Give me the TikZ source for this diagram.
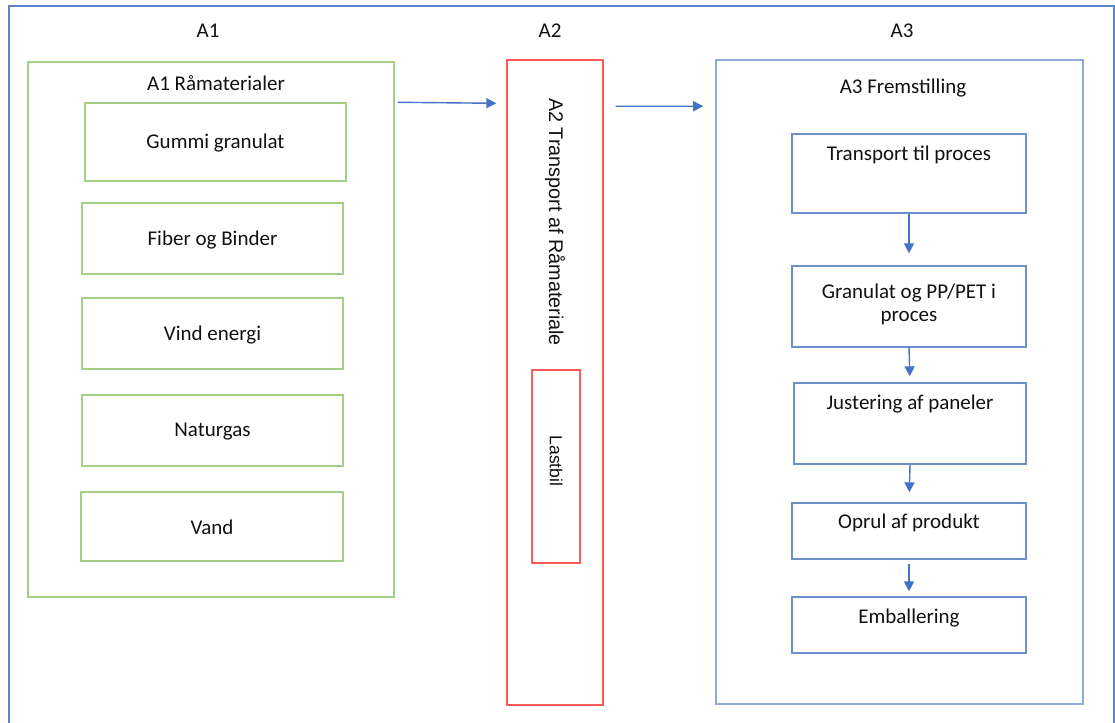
\documentclass[tikz,border=0pt]{standalone}
\usepackage{fontspec}
\setmainfont{Carlito}
\newfontfamily\arialfont{Liberation Sans}
\usetikzlibrary{arrows.meta}
\definecolor{gbox}{HTML}{A3CF86}
\definecolor{rbox}{HTML}{FF5A5A}
\definecolor{bouter}{HTML}{5B86C8}
\definecolor{bbox}{HTML}{8FAADC}
\definecolor{bstep}{HTML}{6F8FC8}
\definecolor{arrowc}{HTML}{4472C4}
\definecolor{txt}{HTML}{111111}
\tikzset{
  greenbox/.style={draw=gbox, line width=1.4pt, rectangle, inner sep=0pt},
  redbox/.style={draw=rbox, line width=1.4pt, rectangle, inner sep=0pt},
  bluebox/.style={draw=bbox, line width=1.6pt, rectangle, inner sep=0pt},
  stepbox/.style={draw=bstep, line width=1.3pt, rectangle, inner sep=0pt},
  lbl/.style={text=txt, font=\fontsize{21}{23}\selectfont, inner sep=0pt, align=center},
  rlbl/.style={text=txt, font=\arialfont\fontsize{19.8}{22}\selectfont, inner sep=0pt, rotate=-90},
  flow/.style={draw=arrowc, line width=1.4pt, -{Triangle[length=10pt,width=10pt]}},
}
\begin{document}
\begin{tikzpicture}[x=1pt,y=-1pt]
\useasboundingbox (0,0) rectangle (1115,722);
% outer frame (bottom edge outside the picture)
\draw[draw=bouter, line width=2pt] (8.5,730) -- (8.5,6) -- (1113.5,6) -- (1113.5,730);
% column titles
\node[lbl] (t1) at (208,31) {A1};
\node[lbl] (t2) at (550,31) {A2};
\node[lbl] (t3) at (902,31) {A3};
% A1
\node[greenbox, minimum width=366pt, minimum height=535pt] (A1) at (211,329.5) {};
\node[lbl] (A1t) at (216,83) {A1 Råmaterialer};
\node[greenbox, minimum width=261pt, minimum height=78pt] (g1) at (215.5,142) {};
\node[lbl] at (215.5,143) {Gummi granulat};
\node[greenbox, minimum width=261pt, minimum height=71pt] (g2) at (212.5,238.5) {};
\node[lbl] at (212.5,240) {Fiber og Binder};
\node[greenbox, minimum width=261pt, minimum height=71pt] (g3) at (212.5,333.5) {};
\node[lbl] at (212.5,335) {Vind energi};
\node[greenbox, minimum width=261pt, minimum height=71pt] (g4) at (212.5,430.5) {};
\node[lbl] at (212.5,432) {Naturgas};
\node[greenbox, minimum width=262pt, minimum height=69pt] (g5) at (212,526.5) {};
\node[lbl] at (212,527) {Vand};
% A2
\node[redbox, minimum width=96pt, minimum height=645pt] (A2) at (555,382.5) {};
\node[rlbl] (A2t) at (555,222) {A2 Transport af Råmateriale};
\node[redbox, minimum width=48pt, minimum height=193pt] (L) at (556,466.5) {};
\node[rlbl, font=\arialfont\fontsize{17.5}{20}\selectfont] at (556,461) {Lastbil};
% A3
\node[bluebox, minimum width=367pt, minimum height=644pt] (A3) at (899.5,382) {};
\node[lbl] (A3t) at (903,88) {A3 Fremstilling};
\node[stepbox, minimum width=234pt, minimum height=79pt] (s1) at (909,173.5) {};
\node[lbl] at (909,155) {Transport til proces};
\node[stepbox, minimum width=234pt, minimum height=81pt] (s2) at (909,306.5) {};
\node[lbl] at (909,304) {Granulat og PP/PET i\\proces};
\node[stepbox, minimum width=232pt, minimum height=81pt] (s3) at (910,423.5) {};
\node[lbl] at (910,404) {Justering af paneler};
\node[stepbox, minimum width=234pt, minimum height=56pt] (s4) at (909,531) {};
\node[lbl] at (909,523) {Oprul af produkt};
\node[stepbox, minimum width=234pt, minimum height=56pt] (s5) at (909,625) {};
\node[lbl] at (909,618) {Emballering};
% connectors
\path (A1.north east) ++(3,41) coordinate (a1s);
\path (A2.north west) ++(-10,44) coordinate (a2e);
\path (A2.north east) ++(12,47) coordinate (a2s);
\path (A3.north west) ++(-12,47) coordinate (a3e);
\draw[flow] (a1s) -- (a2e);
\draw[flow] (a2s) -- (a3e);
\draw[flow, shorten >=12pt] (s1.south) -- (s2.north);
\draw[flow, shorten >=6pt] (s2.south) -- (s3.north);
\draw[flow, shorten >=10pt] (s3.south) -- (s4.north);
\draw[flow, shorten <=4pt, shorten >=5pt] (s4.south) -- (s5.north);
\end{tikzpicture}
\end{document}
